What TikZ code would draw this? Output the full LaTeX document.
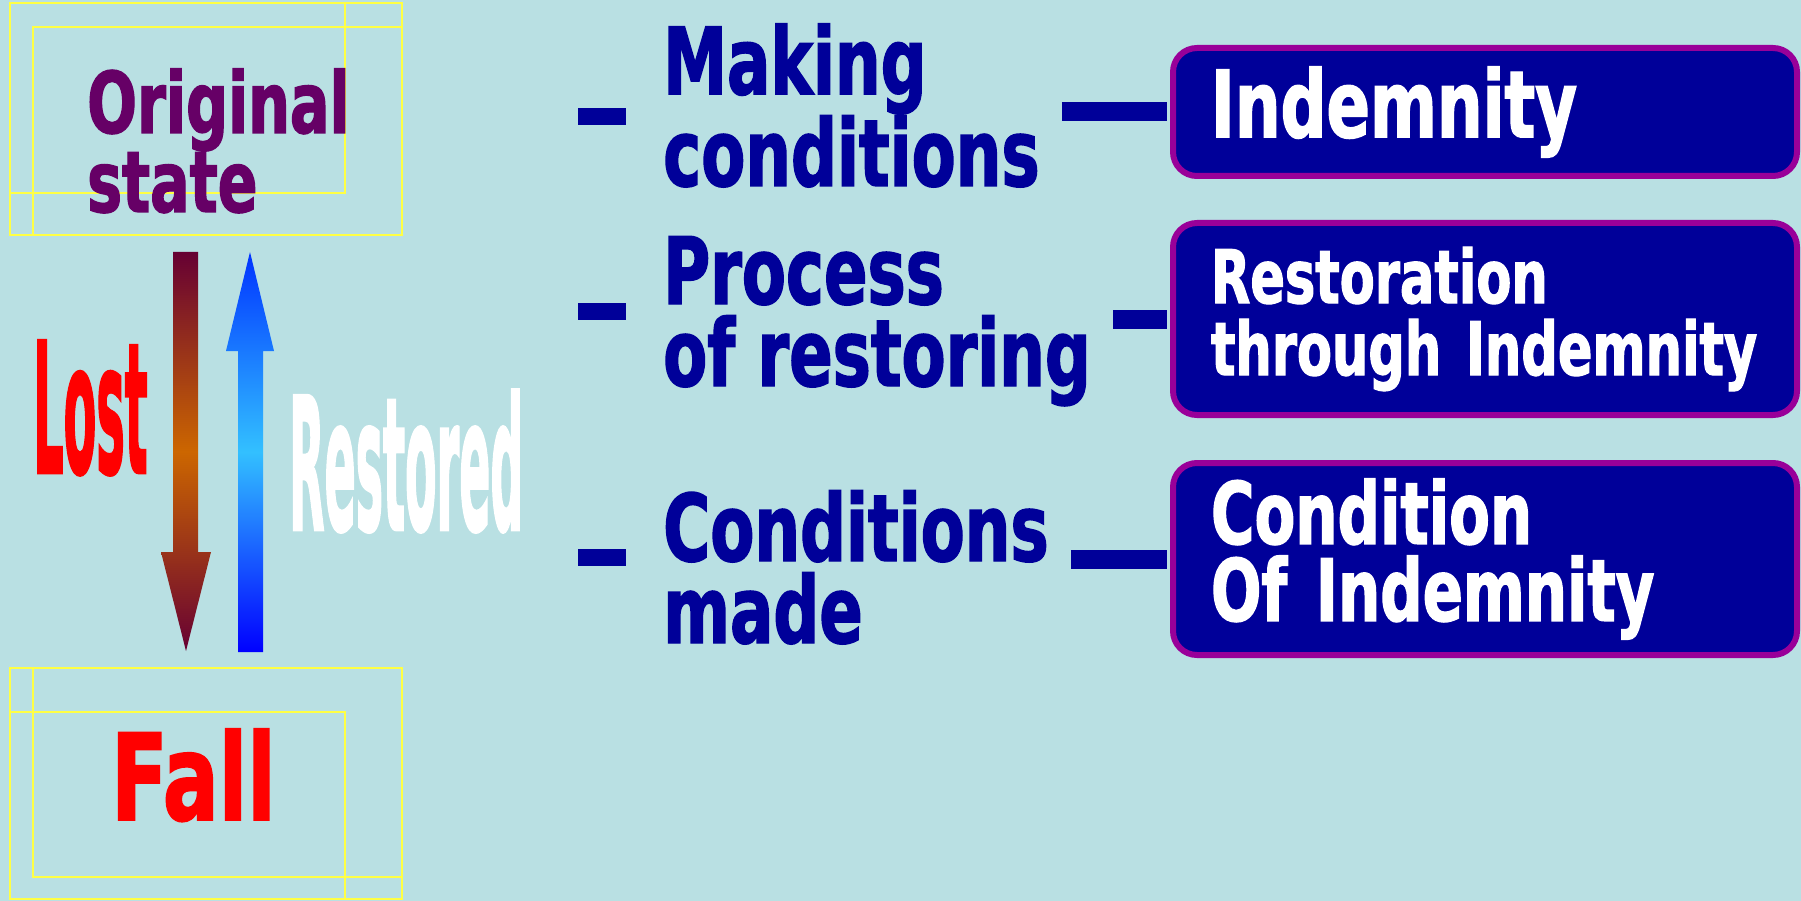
\documentclass[tikz,border=0pt]{standalone}
\usepackage{fontspec}
\newfontfamily\heavy{DejaVu Sans Bold}[FakeStretch=0.69,FakeBold=1.5]
\definecolor{bgblue}{HTML}{B9E0E3}
\definecolor{navy}{HTML}{000099}
\definecolor{plum}{HTML}{990099}
\definecolor{grape}{HTML}{660066}
\definecolor{frameyellow}{HTML}{FFFF44}
\definecolor{lostdark}{HTML}{660033}
\definecolor{lostmid}{HTML}{CC6600}
\definecolor{upmid}{HTML}{33C0FF}
\definecolor{uptop}{HTML}{0033FF}

\begin{document}
\begin{tikzpicture}[x=1pt,y=-1pt,inner sep=0pt]
\tikzstyle{frame}=[draw=frameyellow,line width=1.2pt]
\tikzstyle{midtext}=[text=navy,font={\heavy\fontsize{93}{82}\selectfont},align=left,anchor=base west]
\tikzstyle{ibox}=[rounded corners=24pt,draw=plum,line width=6pt,fill=navy,text=white,align=left,text width=548pt,inner xsep=38pt,anchor=north west]
\tikzstyle{bar}=[fill=navy,minimum width=48pt,minimum height=17pt,anchor=east]
\tikzstyle{link}=[navy,line width=19pt,shorten >=3pt]

\fill[bgblue] (0,0) rectangle (1801,901);
\useasboundingbox (0,0) rectangle (1801,901);

% yellow frames
\draw[frame] (10,3) rectangle (402,235);
\draw[frame] (33,27) rectangle (402,235);
\draw[frame] (10,3) rectangle (345,193);
\draw[frame] (10,668) rectangle (402,899);
\draw[frame] (33,668) rectangle (402,877);
\draw[frame] (10,712) rectangle (345,899);

\node[text=grape,font={\heavy\fontsize{85}{72}\selectfont},align=left,anchor=base west](orig) at (87,212) {Original\\state};
\node[text=red,font={\heavy\fontsize{120}{120}\selectfont},anchor=base west](fall) at (111,820) {Fall};
\node[text=red,font={\heavy\fontsize{182}{182}\selectfont},anchor=base west](lost) at (33,473) {\scalebox{0.38}[1]{Lost}};
\node[text=white,font={\heavy\fontsize{185}{185}\selectfont},anchor=base west](restored) at (289,530) {\scalebox{0.36}[1]{Restored}};

% lost and restored arrows
\shade[top color=lostdark,bottom color=lostdark,middle color=lostmid] (173,252) -- (198,252) -- (198,552) -- (211,552) -- (186,651) -- (161,552) -- (173,552) -- cycle;
\shade[top color=uptop,bottom color=blue,middle color=upmid] (238,652) -- (263,652) -- (263,351) -- (274,351) -- (250,252) -- (226,351) -- (238,351) -- cycle;

\node[midtext](m1) at (663,186) {Making\\conditions};
\node[midtext](m2) at (663,386) {Process\\of restoring};
\node[midtext](m3) at (663,643) {Conditions\\made};

\node[bar](d1) at (626,117) {};
\node[bar](d2) at (626,311) {};
\node[bar](d3) at (626,557) {};

\node[ibox,minimum height=128pt,font={\heavy\fontsize{93}{82}\selectfont}](b1) at (1170,45) {Indemnity};
\node[ibox,minimum height=192pt,font={\heavy\fontsize{74}{72}\selectfont}](b2) at (1170,220) {Restoration\\through Indemnity};
\node[ibox,minimum height=192pt,font={\heavy\fontsize{86}{77}\selectfont}](b3) at (1170,460) {Condition\\Of Indemnity};

\draw[link] ([xshift=22pt]m1.east |- b1.west) -- (b1.west);
\draw[link] ([xshift=22pt]m2.east |- b2.west) -- (b2.west);
\draw[link] ([xshift=22pt]m3.east |- b3.west) -- (b3.west);
\end{tikzpicture}
\end{document}
